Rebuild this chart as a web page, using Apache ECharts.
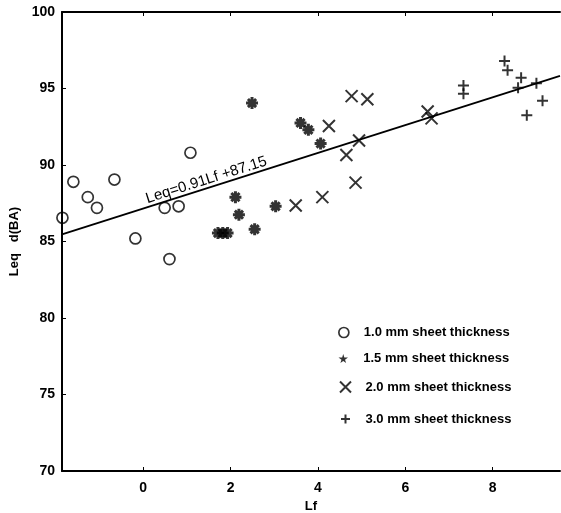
<!DOCTYPE html>
<html>
<head>
<meta charset="utf-8">
<script src="https://cdn.jsdelivr.net/npm/echarts@6/dist/echarts.min.js"></script>
<style>html,body{margin:0;padding:0;background:#fff;}#c{width:561px;height:513px;}</style>
</head>
<body>
<div id="c"></div>
<script>
// ---- data ----
const xTicks = [0, 2, 4, 6, 8];
const yTicks = [70, 75, 80, 85, 90, 95, 100];

const s10X = [-1.85, -1.6, -1.27, -1.06, -0.66, -0.18, 0.49, 0.6, 0.81, 1.08];
const s10Y = [86.55, 88.9, 87.9, 87.2, 89.05, 85.2, 87.2, 83.85, 87.3, 90.8];

const s15X = [1.71, 1.82, 1.93, 2.11, 2.19, 2.49, 2.55, 3.03, 3.6, 3.78, 4.06];
const s15Y = [85.55, 85.55, 85.55, 87.9, 86.75, 94.05, 85.8, 87.3, 92.75, 92.3, 91.4];

const s20X = [3.49, 4.1, 4.25, 4.65, 4.77, 4.86, 4.94, 5.13, 6.51, 6.6];
const s20Y = [87.35, 87.9, 92.55, 90.65, 94.5, 88.85, 91.6, 94.3, 93.5, 93.05];

const s30X = [7.33, 7.33, 8.27, 8.34, 8.58, 8.65, 8.78, 9.0, 9.14];
const s30Y = [95.2, 94.65, 96.8, 96.2, 95.05, 95.7, 93.25, 95.35, 94.2];

const fitX = [-1.86, 9.54];
const fitY = [85.46, 95.83];
const fitLabel = 'Leq=0.91Lf +87.15';
const fitLabelAt = 1.5;

const names = ['1.0 mm sheet thickness', '1.5 mm sheet thickness', '2.0 mm sheet thickness', '3.0 mm sheet thickness'];
const xName = 'Lf';
const yName = 'Leq   d(BA)';

// ---- chart ----
const FONT = 'Liberation Sans, Arial, Helvetica, sans-serif';
const zip = (a, b) => a.map((v, i) => [v, b[i]]);
const ASTER = 'path://M5,0L5,10M0,5L10,5M1.6,1.6L8.4,8.4M8.4,1.6L1.6,8.4';
const XMARK = 'path://M0,0L10,10M10,0L0,10';
const PLUS = 'path://M5,0L5,10M0,5L10,5';
const STAR = 'path://M50,0L61,35L98,35L68,57L79,91L50,70L21,91L32,57L2,35L39,35Z';

const chart = echarts.init(document.getElementById('c'), null, {renderer: 'canvas'});

const strokeStyle = (w) => ({color: 'none', borderColor: '#000', borderWidth: w});

const legendRows = [332, 358, 385, 418];
const legendIcons = [
  {icon: 'circle', h: 10, itemStyle: {color: '#fff', borderColor: '#000', borderWidth: 1.7}},
  {icon: STAR, h: 9, itemStyle: {color: '#000', borderWidth: 0}},
  {icon: XMARK, h: 11, itemStyle: {color: 'none', borderColor: '#000', borderWidth: 2}},
  {icon: PLUS, h: 9, itemStyle: {color: 'none', borderColor: '#000', borderWidth: 2}}
];
const legends = names.map((n, i) => ({
  show: true,
  left: 343 - legendIcons[i].h / 2,
  top: legendRows[i] - 6,
  padding: 0,
  itemWidth: 30,
  itemHeight: legendIcons[i].h,
  selectedMode: false,
  symbolKeepAspect: true,
  data: [{name: n, icon: legendIcons[i].icon, itemStyle: legendIcons[i].itemStyle}],
  textStyle: {fontFamily: FONT, fontSize: 13, fontWeight: 'bold', color: '#000'}
}));

const option = {
  animation: false,
  backgroundColor: '#fff',
  grid: {left: 62, right: 1, top: 12, bottom: 42, containLabel: false, outerBoundsMode: 'none'},
  legend: legends,
  xAxis: [{
    type: 'value', min: fitX[0], max: fitX[1], position: 'bottom',
    name: xName, nameLocation: 'middle', nameGap: 23,
    nameTextStyle: {fontFamily: FONT, fontSize: 13, fontWeight: 'bold', color: '#000'},
    axisLine: {show: true, onZero: false, lineStyle: {color: '#000', width: 2}},
    axisTick: {show: true, inside: true, length: 4, customValues: xTicks, lineStyle: {color: '#000', width: 1}},
    axisLabel: {customValues: xTicks, margin: 10, fontFamily: FONT, fontSize: 14, fontWeight: 'bold', color: '#000', formatter: v => String(v)},
    splitLine: {show: false}
  }, {
    type: 'value', min: fitX[0], max: fitX[1], position: 'top',
    axisLine: {show: true, onZero: false, lineStyle: {color: '#000', width: 2}},
    axisTick: {show: true, inside: true, length: 4, customValues: xTicks, lineStyle: {color: '#000', width: 1}},
    axisLabel: {show: false},
    splitLine: {show: false}
  }],
  yAxis: [{
    type: 'value', min: yTicks[0], max: yTicks[yTicks.length - 1], interval: 5,
    name: yName, nameLocation: 'middle', nameGap: 36,
    nameTextStyle: {fontFamily: FONT, fontSize: 13, fontWeight: 'bold', color: '#000'},
    axisLine: {show: true, onZero: false, lineStyle: {color: '#000', width: 2}},
    axisTick: {show: true, inside: true, length: 4, lineStyle: {color: '#000', width: 1}},
    axisLabel: {margin: 7, fontFamily: FONT, fontSize: 14, fontWeight: 'bold', color: '#000'},
    splitLine: {show: false}
  }],
  series: [
    {name: 'fit', type: 'line', data: zip(fitX, fitY), symbol: 'none', silent: true,
     lineStyle: {color: '#000', width: 1.8}, z: 1},
    {name: names[0], type: 'scatter', data: zip(s10X, s10Y), symbol: 'circle', symbolSize: 11,
     itemStyle: {color: 'rgba(0,0,0,0)', borderColor: '#000', borderWidth: 1.7}, z: 3},
    {name: names[1], type: 'scatter', data: zip(s15X, s15Y), symbol: ASTER, symbolSize: 12,
     itemStyle: strokeStyle(3), z: 3},
    {name: names[2], type: 'scatter', data: zip(s20X, s20Y), symbol: XMARK, symbolSize: 12,
     itemStyle: strokeStyle(2), z: 3},
    {name: names[3], type: 'scatter', data: zip(s30X, s30Y), symbol: PLUS, symbolSize: 11,
     itemStyle: strokeStyle(2), z: 3}
  ]
};
chart.setOption(option);

// rotated fit label placed along the fit line (positions via library conversion)
function placeLabel() {
  const p1 = chart.convertToPixel({gridIndex: 0}, [fitX[0], fitY[0]]);
  const p2 = chart.convertToPixel({gridIndex: 0}, [fitX[1], fitY[1]]);
  const t = (fitLabelAt - fitX[0]) / (fitX[1] - fitX[0]);
  const yAt = fitY[0] + t * (fitY[1] - fitY[0]);
  const p = chart.convertToPixel({gridIndex: 0}, [fitLabelAt, yAt]);
  const dx = p2[0] - p1[0], dy = p2[1] - p1[1];
  const len = Math.sqrt(dx * dx + dy * dy);
  const nx = dy / len, ny = -dx / len;
  const off = 8;
  chart.setOption({
    graphic: [{
      type: 'text', x: p[0] + nx * off, y: p[1] + ny * off,
      rotation: Math.atan2(-dy, dx),
      style: {text: fitLabel, fontFamily: FONT, fontSize: 15, fill: '#000', align: 'center', verticalAlign: 'middle'},
      z: 10
    }]
  });
}
placeLabel();
</script>
</body>
</html>
